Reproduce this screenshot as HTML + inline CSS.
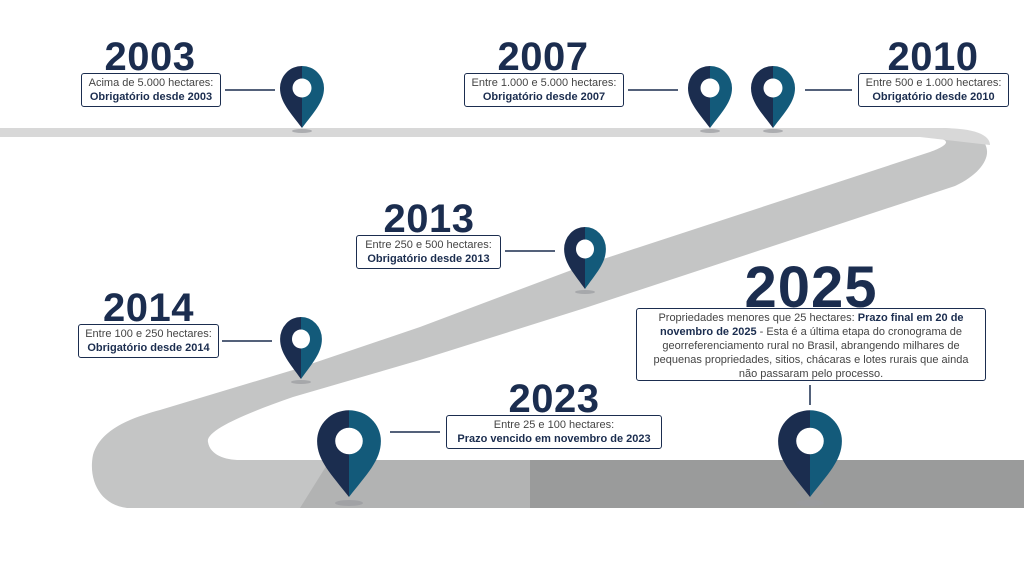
<!DOCTYPE html>
<html><head><meta charset="utf-8"><style>
html,body{margin:0;padding:0;background:#fff}
#w{position:relative;width:1024px;height:576px;overflow:hidden;font-family:"Liberation Sans",sans-serif;color:#1b2d4f}
.yr{position:absolute;font-weight:bold;font-size:40px;letter-spacing:0.5px;line-height:40px;text-align:center;color:#1b2d4f}
.bx{position:absolute;border:1.5px solid #1b2d4f;border-radius:3px;background:#fff;font-size:11px;line-height:14px;text-align:center;box-sizing:border-box;padding:2px 4px;color:#444}
.bx b{color:#1b2d4f}
</style></head><body><div id="w">
<svg width="1024" height="576" style="position:absolute;left:0;top:0">
<defs>
<g id="pin">
<path d="M0,0 C-12,-16 -22,-26 -22,-40 A22,22 0 0 1 0,-62 Z" fill="#1b2d4f"/>
<path d="M0,0 C12,-16 22,-26 22,-40 A22,22 0 0 0 0,-62 Z" fill="#135a7a"/>
<circle cx="0" cy="-40" r="9.5" fill="#fff"/>
</g>
</defs>
<path d="M0,128 L940,128 C1000,128 1000,165 955,186 L585,308 L420,360 L293,397 C250,412 205,430 208,442 C210,455 225,460 240,460 L1024,460 L1024,508 L127,508 C100,505 88,480 93,455 C100,430 130,418 160,410 L293,370 L420,327 L585,265 L930,152 C955,143 950,137 920,137 L0,137 Z" fill="#c4c5c5"/>
<path d="M0,128 L940,128 C975,128 990,135 990,145 L920,137 L0,137 Z" fill="#d8d8d8"/>
<path d="M530,460 L1024,460 L1024,508 L530,508 Z" fill="#9a9b9b"/>
<path d="M330,460 L530,460 L530,508 L300,508 Z" fill="#b2b3b3"/>
<line x1="225" y1="90" x2="275" y2="90" stroke="#1b2d4f" stroke-width="1.5"/>
<line x1="628" y1="90" x2="678" y2="90" stroke="#1b2d4f" stroke-width="1.5"/>
<line x1="805" y1="90" x2="852" y2="90" stroke="#1b2d4f" stroke-width="1.5"/>
<line x1="505" y1="251" x2="555" y2="251" stroke="#1b2d4f" stroke-width="1.5"/>
<line x1="222" y1="341" x2="272" y2="341" stroke="#1b2d4f" stroke-width="1.5"/>
<line x1="390" y1="432" x2="440" y2="432" stroke="#1b2d4f" stroke-width="1.5"/>
<line x1="810" y1="385" x2="810" y2="405" stroke="#1b2d4f" stroke-width="1.5"/>
<g fill="#9a9ba0" opacity="0.7">
<ellipse cx="302" cy="131" rx="10" ry="2"/><ellipse cx="710" cy="131" rx="10" ry="2"/><ellipse cx="773" cy="131" rx="10" ry="2"/>
<ellipse cx="585" cy="292" rx="10" ry="2"/><ellipse cx="301" cy="382" rx="10" ry="2"/>
<ellipse cx="349" cy="503" rx="14" ry="3"/><ellipse cx="810" cy="503" rx="14" ry="3"/>
</g>
<use href="#pin" transform="translate(302,128)"/>
<use href="#pin" transform="translate(710,128)"/>
<use href="#pin" transform="translate(773,128)"/>
<use href="#pin" transform="translate(585,289) scale(0.95,1)"/>
<use href="#pin" transform="translate(301,379) scale(0.95,1)"/>
<use href="#pin" transform="translate(349,497) scale(1.45,1.4)"/>
<use href="#pin" transform="translate(810,497) scale(1.45,1.4)"/>
</svg>
<div class="yr" style="left:80px;top:37px;width:140px">2003</div>
<div class="bx" style="left:81px;top:73px;width:140px;height:34px">Acima de 5.000 hectares:<br><b>Obrigatório desde 2003</b></div>
<div class="yr" style="left:463px;top:37px;width:160px">2007</div>
<div class="bx" style="left:464px;top:73px;width:160px;height:34px">Entre 1.000 e 5.000 hectares:<br><b>Obrigatório desde 2007</b></div>
<div class="yr" style="left:858px;top:37px;width:150px">2010</div>
<div class="bx" style="left:858px;top:73px;width:151px;height:34px">Entre 500 e 1.000 hectares:<br><b>Obrigatório desde 2010</b></div>
<div class="yr" style="left:356px;top:199px;width:146px">2013</div>
<div class="bx" style="left:356px;top:235px;width:145px;height:34px">Entre 250 e 500 hectares:<br><b>Obrigatório desde 2013</b></div>
<div class="yr" style="left:78px;top:288px;width:141px">2014</div>
<div class="bx" style="left:78px;top:324px;width:141px;height:34px">Entre 100 e 250 hectares:<br><b>Obrigatório desde 2014</b></div>
<div class="yr" style="left:446px;top:379px;width:216px">2023</div>
<div class="bx" style="left:446px;top:415px;width:216px;height:34px">Entre 25 e 100 hectares:<br><b>Prazo vencido em novembro de 2023</b></div>
<div class="yr" style="left:636px;top:260px;width:350px;font-size:58px;line-height:56px;letter-spacing:1px">2025</div>
<div class="bx" style="left:636px;top:308px;width:350px;height:73px;padding:2px 6px">Propriedades menores que 25 hectares: <b>Prazo final em 20 de novembro de 2025</b> - Esta é a última etapa do cronograma de georreferenciamento rural no Brasil, abrangendo milhares de pequenas propriedades, sitios, chácaras e lotes rurais que ainda não passaram pelo processo.</div>
</div></body></html>
